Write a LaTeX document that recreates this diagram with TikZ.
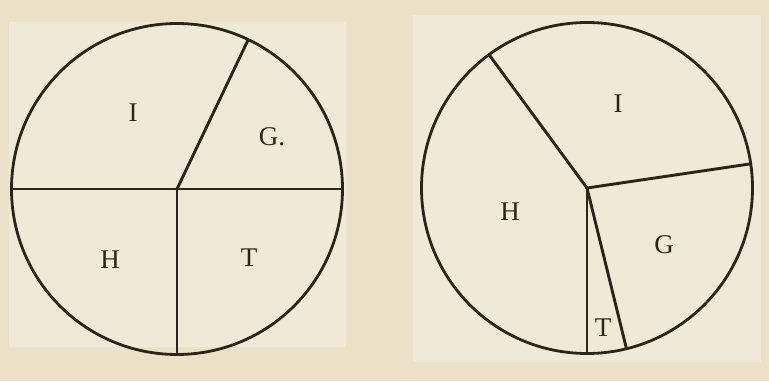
\documentclass[tikz,border=0pt]{standalone}
\usepackage{fontspec}
\setmainfont{Liberation Serif}
\usetikzlibrary{calc}
\definecolor{paper}{HTML}{EBE1C9}
\definecolor{patch}{HTML}{F1E9D8}
\definecolor{ink}{HTML}{2B2419}
\begin{document}
\begin{tikzpicture}[x=1pt,y=1pt,
  rim/.style={draw=ink,line width=2.8pt},
  spoke/.style={draw=ink,line width=2.9pt,line cap=round},
  lbl/.style={font=\fontsize{27}{27}\selectfont,text=ink,inner sep=0pt}]
  \fill[paper] (0,0) rectangle (769,381);
  \useasboundingbox (0,0) rectangle (769,381);
  \fill[patch] (9,34) rectangle (346,359);
  \fill[patch] (413,19) rectangle (761,366);
  % first circle
  \coordinate (cL) at (177,192);
  \foreach \ang/\nm in {0/e,64.5/n,180/w,270/s}
    \coordinate (L\nm) at ($(cL)+(\ang:165.5)$);
  \draw[rim] (cL) circle (165.5);
  \draw[spoke] (Lw) -- (Le);
  \draw[spoke] (cL) -- (Ln);
  \draw[spoke] (cL) -- (Ls);
  \node[lbl] (LI) at (133,268) {I};
  \node[lbl] (LG) at (272,244) {G.};
  \node[lbl] (LH) at (110,121) {H};
  \node[lbl] (LT) at (249,123) {T};
  % second circle
  \coordinate (cR) at (587,193);
  \foreach \ang/\nm in {126.3/a,8.4/b,270/c,283.8/d}
    \coordinate (R\nm) at ($(cR)+(\ang:165.5)$);
  \draw[rim] (cR) circle (165.5);
  \foreach \nm in {a,b,c,d}
    \draw[spoke] (cR) -- (R\nm);
  \node[lbl] (RI) at (618,277) {I};
  \node[lbl] (RH) at (510,169) {H};
  \node[lbl] (RG) at (664,136) {G};
  \node[lbl] (RT) at (603,53) {T};
\end{tikzpicture}
\end{document}
